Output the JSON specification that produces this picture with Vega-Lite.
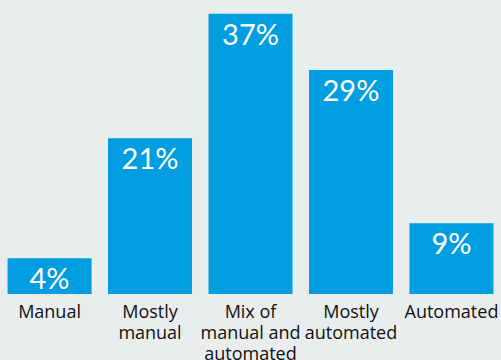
{
  "$schema": "https://vega.github.io/schema/vega-lite/v6.json",
  "width": 501,
  "height": 294,
  "padding": {"left": 0, "top": 0, "right": 0, "bottom": 66},
  "autosize": {"type": "none"},
  "background": "#e9edee",
  "config": {"view": {"stroke": null}},
  "data": {
    "values": [
      {"category": "Manual", "value": 4.7, "label": "4%"},
      {"category": "Mostly|manual", "value": 20.5, "label": "21%"},
      {"category": "Mix of|manual and|automated", "value": 36.9, "label": "37%"},
      {"category": "Mostly|automated", "value": 29.5, "label": "29%"},
      {"category": "Automated", "value": 9.3, "label": "9%"}
    ]
  },
  "encoding": {
    "x": {
      "field": "category",
      "type": "nominal",
      "sort": null,
      "scale": {"paddingInner": 0.164, "paddingOuter": 0.075},
      "axis": {
        "title": null,
        "labelAngle": 0,
        "domain": false,
        "ticks": false,
        "labelPadding": 9,
        "labelFont": "Open Sans",
        "labelFontSize": 18,
        "labelColor": "#111111",
        "labelLineHeight": 21,
        "labelBaseline": "top",
        "labelExpr": "split(datum.label, '|')"
      }
    },
    "y": {
      "field": "value",
      "type": "quantitative",
      "scale": {"domain": [0, 38.7], "nice": false, "zero": true},
      "axis": null
    }
  },
  "layer": [
    {"mark": {"type": "bar", "color": "#009ee0"}},
    {
      "mark": {
        "type": "text",
        "color": "#ffffff",
        "font": "Lato",
        "fontSize": 29,
        "baseline": "alphabetic",
        "dy": 31
      },
      "encoding": {"text": {"field": "label"}}
    }
  ]
}
